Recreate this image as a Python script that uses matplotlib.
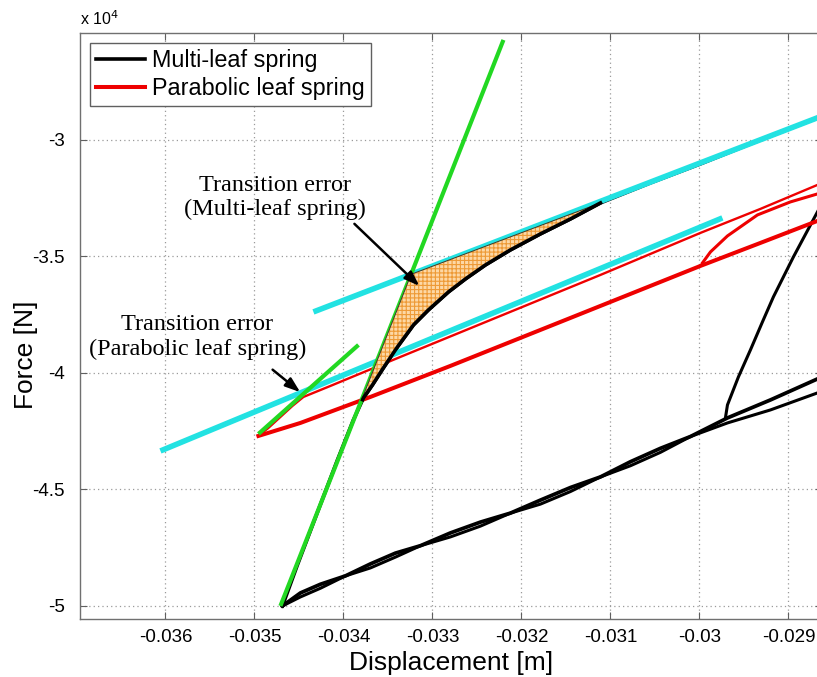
import matplotlib
matplotlib.use("Agg")
import matplotlib.pyplot as plt
import numpy as np
from matplotlib.ticker import FuncFormatter
from matplotlib.patches import Polygon

plt.rcParams['font.family'] = ['Liberation Sans', 'DejaVu Sans']
plt.rcParams['axes.unicode_minus'] = False
plt.rcParams['hatch.linewidth'] = 0.8

# Multi-leaf spring: unloading branch (top right -> lower turning point)
multi_unload_x = [-0.028416, -0.028674, -0.029427, -0.029989, -0.030551, -0.031112,
                  -0.031449, -0.031787, -0.032124, -0.032404, -0.032629, -0.032820,
                  -0.033045, -0.033213, -0.033393, -0.033551, -0.033674, -0.033775,
                  -0.033888, -0.034067, -0.034303, -0.034517, -0.034685]
multi_unload_f = [-28670, -29056, -30172, -31030, -31845, -32704,
                  -33391, -34034, -34721, -35365, -35966, -36524,
                  -37296, -37940, -38884, -39785, -40515, -41073,
                  -42017, -43734, -46094, -48240, -50000]

# Multi-leaf spring: loading band, two overlapping cycles
multi_load_x = [-0.034685, -0.034483, -0.034258, -0.033978, -0.033697, -0.033416,
                -0.033135, -0.032798, -0.032461, -0.032124, -0.031787, -0.031449,
                -0.031112, -0.030775, -0.030438, -0.030101, -0.029685, -0.029202,
                -0.028674, -0.028416]
multi_load_f = [-50000, -49442, -49069, -48712, -48197, -47734,
                -47416, -46867, -46403, -46017, -45459, -44918,
                -44463, -43811, -43236, -42730, -41931, -41159,
                -40257, -39828]
multi_load2_f = [-50000, -49613, -49240, -48712, -48369, -47905,
                 -47416, -47038, -46575, -46017, -45631, -45090,
                 -44463, -43983, -43408, -42730, -42146, -41588,
                 -40858, -40558]

# Multi-leaf spring: reversal branch on the right
multi_rev_x = [-0.029708, -0.029685, -0.029562, -0.029427, -0.029292, -0.029169,
               -0.028944, -0.028674, -0.028528]
multi_rev_f = [-41931, -41373, -40172, -39013, -37811, -36738,
               -35021, -33090, -32060]

# Parabolic leaf spring
para_lower_x = [-0.034955, -0.034483, -0.033697, -0.032798, -0.032236, -0.031337,
                -0.030663, -0.029989, -0.029315, -0.028674, -0.028416]
para_lower_f = [-42704, -42146, -41030, -39699, -38841, -37468,
                -36438, -35408, -34421, -33476, -33090]
para_upper_x = [-0.034955, -0.034843, -0.034708, -0.034573, -0.034449, -0.034146,
                -0.033360, -0.032236, -0.031112, -0.029989, -0.029315, -0.028674,
                -0.028416]
para_upper_f = [-42704, -42360, -41888, -41416, -41030, -40558,
                -39313, -37554, -35794, -33991, -32961, -31931,
                -31545]
para_inner_x = [-0.029966, -0.029876, -0.029685, -0.029348, -0.028978, -0.028674,
                -0.028416]
para_inner_f = [-35279, -34807, -34120, -33219, -32661, -32318,
                -32060]

# Fitted stiffness lines
multi_load_fit_x = [-0.034708, -0.032202]
multi_load_fit_f = [-50000, -25708]
multi_unload_fit_x = [-0.034337, -0.028416]
multi_unload_fit_f = [-37382, -28670]
para_load_fit_x = [-0.034955, -0.033831]
para_load_fit_f = [-42618, -38798]
para_unload_fit_x = [-0.036056, -0.029742]
para_unload_fit_f = [-43348, -33348]

hatch_low_f = -41150   # lower end of the shaded transition area

x_ticks = [-0.036, -0.035, -0.034, -0.033, -0.032, -0.031, -0.030, -0.029]
y_ticks = [-50000, -45000, -40000, -35000, -30000]

fig = plt.figure(figsize=(8.17, 6.77), dpi=100)
ax = fig.add_axes([0.0979, 0.0857, 0.9082, 0.8656])

ax.plot(multi_load_x, multi_load_f, color='k', lw=2.7, zorder=2)
ax.plot(multi_load_x, multi_load2_f, color='k', lw=2.2, zorder=2)
ax.plot(multi_rev_x, multi_rev_f, color='k', lw=2.2, zorder=2)
ax.plot(multi_unload_x, multi_unload_f, color='k', lw=2.6, zorder=2,
        label='Multi-leaf spring')

ax.plot(para_lower_x, para_lower_f, color='#ee0000', lw=2.9, zorder=2,
        label='Parabolic leaf spring')
ax.plot(para_upper_x, para_upper_f, color='#ee0000', lw=1.7, zorder=2)
ax.plot(para_inner_x, para_inner_f, color='#ee0000', lw=2.2, zorder=2)

ax.plot(multi_unload_fit_x, multi_unload_fit_f, color='#22e2e2', lw=4.0,
        solid_capstyle='butt', zorder=3)
ax.plot(para_unload_fit_x, para_unload_fit_f, color='#22e2e2', lw=4.0,
        solid_capstyle='butt', zorder=3)
ax.plot(multi_load_fit_x, multi_load_fit_f, color='#22d822', lw=3.0,
        solid_capstyle='butt', zorder=3)
ax.plot(para_load_fit_x, para_load_fit_f, color='#22d822', lw=3.0,
        solid_capstyle='butt', zorder=3)

# shaded transition error: between loading fit, unloading fit and measured curve
gx, gf = np.array(multi_load_fit_x), np.array(multi_load_fit_f)
cx, cf = np.array(multi_unload_fit_x), np.array(multi_unload_fit_f)
g_slope = (gf[1] - gf[0]) / (gx[1] - gx[0])
c_slope = (cf[1] - cf[0]) / (cx[1] - cx[0])
ix = (cf[0] - gf[0] + g_slope * gx[0] - c_slope * cx[0]) / (g_slope - c_slope)
iy = gf[0] + g_slope * (ix - gx[0])
bottom_x = gx[0] + (hatch_low_f - gf[0]) / g_slope

ux, uf = np.array(multi_unload_x), np.array(multi_unload_f)
sel = (ux <= -0.0311) & (uf >= hatch_low_f)
curve_x = np.append(ux[sel], np.interp(hatch_low_f, uf[::-1], ux[::-1]))
curve_f = np.append(uf[sel], hatch_low_f)
verts = [(bottom_x, hatch_low_f), (ix, iy)] + list(zip(curve_x, curve_f))
ax.add_patch(Polygon(verts, closed=True, facecolor='#fdd8a6', edgecolor='#ee9a36',
                     hatch='++++', lw=0, zorder=4))
ax.add_patch(Polygon(verts, closed=True, fill=False, edgecolor='#3a3a2a',
                     lw=0.7, zorder=4))
ax.plot(curve_x, curve_f, color='k', lw=2.6, zorder=4.5)

# annotations
serif = ['Liberation Serif', 'DejaVu Serif']
arrow = dict(arrowstyle='-|>,head_length=0.9,head_width=0.32', color='k', lw=1.8)
ax.text(-0.034764, -32489, 'Transition error\n(Multi-leaf spring)', ha='center',
        va='center', fontsize=17.5, family=serif, linespacing=1.18, zorder=6)
ax.annotate('', xy=(-0.033124, -36352), xytext=(-0.033899, -33519),
            arrowprops=arrow, zorder=6)
ax.text(-0.035640, -38455, 'Transition error\n(Parabolic leaf spring)', ha='center',
        va='center', fontsize=17.5, family=serif, linespacing=1.22, zorder=6)
ax.annotate('', xy=(-0.034461, -40901), xytext=(-0.034820, -39785),
            arrowprops=arrow, zorder=6)

ax.set_xlim(-0.03696, -0.028623)
ax.set_ylim(-50560, -25410)
ax.set_xticks(x_ticks)
ax.set_yticks(y_ticks)
ax.xaxis.set_major_formatter(FuncFormatter(lambda v, p: f'{v:g}'))
ax.yaxis.set_major_formatter(FuncFormatter(lambda v, p: f'{v / 1e4:g}'))
ax.tick_params(direction='in', length=5, width=0.8, color='#606060',
               labelsize=13.5, top=True, right=True, pad=7)
ax.tick_params(axis='y', pad=11)
for s in ax.spines.values():
    s.set_color('#707070')
    s.set_linewidth(1.0)
ax.grid(True, linestyle=(0, (1, 2.5)), color='#9a9a9a', lw=0.9)
ax.set_axisbelow(True)

ax.set_xlabel('Displacement [m]', fontsize=19, labelpad=4)
ax.set_ylabel('Force [N]', fontsize=19)
ax.yaxis.set_label_coords(-0.057, 0.45)
fig.text(0.098, 0.958, 'x 10$^4$', fontsize=11.5, ha='left', va='bottom')

leg = ax.legend(loc='upper left', bbox_to_anchor=(0.0, 1.0), borderaxespad=0.45,
                fontsize=16.8, fancybox=False, framealpha=1, edgecolor='#606060',
                handlelength=2.1, handletextpad=0.3, borderpad=0.25,
                labelspacing=0.2)
leg.get_frame().set_linewidth(1.0)
leg.set_zorder(7)

fig.savefig('out.png', dpi=100)
